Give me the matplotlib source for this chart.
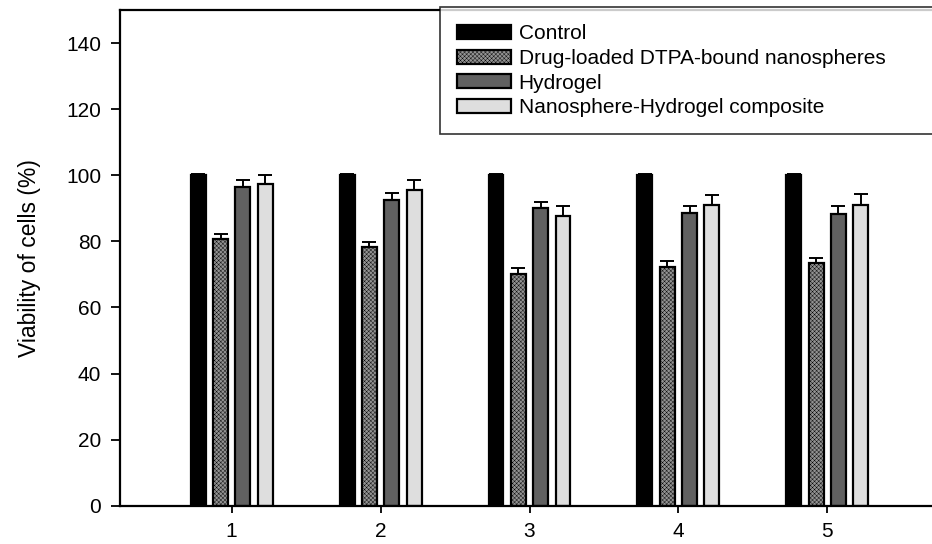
import numpy as np
import matplotlib.pyplot as plt

plt.rcParams['font.family'] = ['Liberation Sans', 'DejaVu Sans']
plt.rcParams['hatch.color'] = '#808080'
plt.rcParams['hatch.linewidth'] = 0.3

days = [1, 2, 3, 4, 5]
series = ['Control', 'Drug-loaded DTPA-bound nanospheres', 'Hydrogel',
          'Nanosphere-Hydrogel composite']
control = [100, 100, 100, 100, 100]
control_err = [0.3, 0.3, 0.3, 0.3, 0.3]
drug = [80.7, 78.3, 70.1, 72.3, 73.3]
drug_err = [1.4, 1.5, 1.9, 1.6, 1.7]
hydrogel = [96.5, 92.4, 90.1, 88.7, 88.3]
hydrogel_err = [2.0, 2.1, 1.8, 2.0, 2.3]
composite = [97.2, 95.5, 87.7, 91.0, 91.1]
composite_err = [2.8, 3.0, 3.0, 2.9, 3.1]

values = [control, drug, hydrogel, composite]
errors = [control_err, drug_err, hydrogel_err, composite_err]
colors = ['black', '#939393', '#616161', '#dedede']
hatches = [None, 'xxxxxxxx', None, None]

fig = plt.figure(figsize=(9.32, 5.44), dpi=100)
W, H = 932, 544
ax = fig.add_axes([120 / W, (H - 505.7) / H, (939 - 120) / W, (505.7 - 10) / H])

x = np.array(days, dtype=float)
width = 0.1
step = 0.15
for i in range(4):
    pos = x + (i - 1.5) * step
    ax.bar(pos, values[i], width, color=colors[i], edgecolor='black',
           linewidth=1.6, hatch=hatches[i], label=series[i], zorder=2)
    ax.errorbar(pos, values[i], yerr=[np.zeros(5), errors[i]], fmt='none',
                ecolor='black', elinewidth=1.4, capsize=5, capthick=1.4, zorder=1)

ax.set_xlim(0.25, 5.75)
ax.set_ylim(0, 150)
ax.set_xticks(days)
ax.set_yticks(np.arange(0, 141, 20))
ax.tick_params(axis='both', labelsize=15, width=1.3, direction='out')
ax.tick_params(axis='y', length=6.5, pad=7)
ax.tick_params(axis='x', length=5, pad=7)
for s in ax.spines.values():
    s.set_linewidth(1.6)
ax.set_ylabel('Viability of cells (%)', fontsize=16.5, labelpad=18)

leg = ax.legend(loc='upper left', bbox_to_anchor=(0.3907, 0, 0.6093, 1.006),
                mode='expand', fontsize=15,
                frameon=True, fancybox=False, edgecolor='black',
                handlelength=2.6, handleheight=0.67, handletextpad=0.34,
                labelspacing=0.27, borderpad=0.83, borderaxespad=0)
leg.get_frame().set_linewidth(1.2)

fig.savefig('out.png', dpi=100)
